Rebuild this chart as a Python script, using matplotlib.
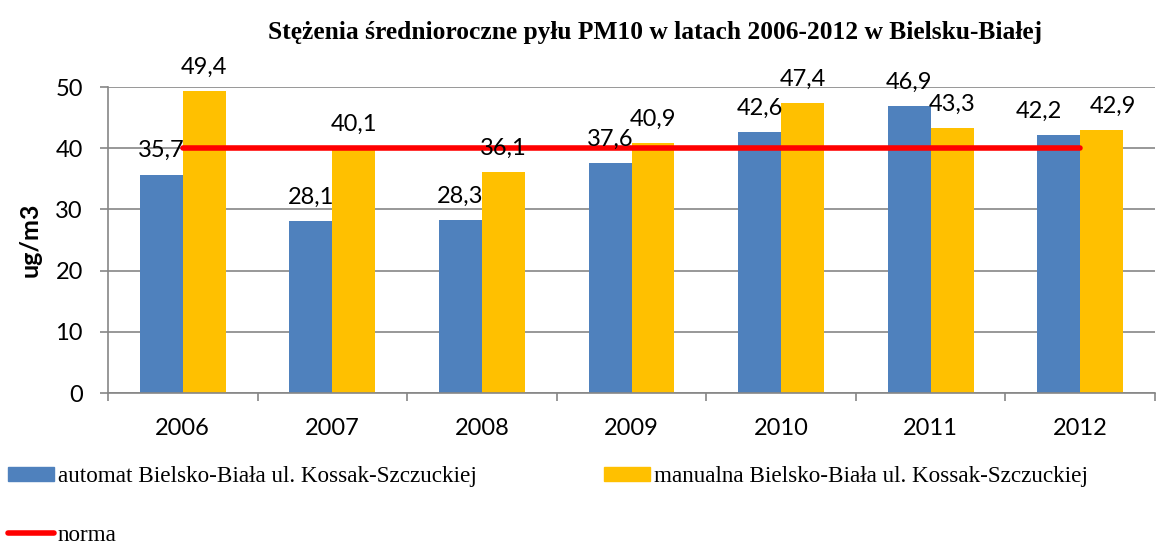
import matplotlib.pyplot as plt
import numpy as np
from matplotlib.lines import Line2D
from matplotlib.patches import Patch

# PM10 annual means, Bielsko-Biała
YEARS = ["2006", "2007", "2008", "2009", "2010", "2011", "2012"]
AUTOMAT = [35.7, 28.1, 28.3, 37.6, 42.6, 46.9, 42.2]
MANUALNA = [49.4, 40.1, 36.1, 40.9, 47.4, 43.3, 42.9]
NORMA = [40, 40, 40, 40, 40, 40, 40]

LABEL_AUTOMAT = "automat Bielsko-Biała ul. Kossak-Szczuckiej"
LABEL_MANUALNA = "manualna Bielsko-Biała ul. Kossak-Szczuckiej"
LABEL_NORMA = "norma"
TITLE = "Stężenia średnioroczne pyłu PM10 w latach 2006-2012 w Bielsku-Białej"

BLUE = "#4F81BD"
ORANGE = "#FFC000"
RED = "#FF0000"
GRID = "#868686"

SANS = ["Lato", "DejaVu Sans"]
SERIF = ["Liberation Serif", "DejaVu Serif"]

# sideways nudge (points) for value labels that would collide: (series, index) -> dx
LABEL_NUDGE = {(0, 6): -14, (1, 6): 8}


def fmt(v):
    return f"{v:.1f}".replace(".", ",")


fig = plt.figure(figsize=(11.67, 5.42), dpi=100)
ax = fig.add_axes([108 / 1167, 1 - 393 / 542, (1155 - 108) / 1167, (393 - 87) / 542])

x = np.arange(len(YEARS))
w = 0.287
b1 = ax.bar(x - w / 2, AUTOMAT, width=w, color=BLUE, zorder=2)
b2 = ax.bar(x + w / 2, MANUALNA, width=w, color=ORANGE, zorder=2)
ax.plot(x, NORMA, color=RED, linewidth=4, solid_capstyle="round", zorder=3)

for s, (bars, vals) in enumerate(((b1, AUTOMAT), (b2, MANUALNA))):
    for i, (rect, v) in enumerate(zip(bars, vals)):
        dx = LABEL_NUDGE.get((s, i), 0)
        ax.annotate(fmt(v), (rect.get_x() + rect.get_width() / 2, v),
                    xytext=(dx, 9.5), textcoords="offset points",
                    ha="center", va="bottom", fontsize=17, family=SANS, zorder=4)

ax.set_xlim(-0.5, len(YEARS) - 0.5)
ax.set_ylim(0, 50)
ax.set_yticks(range(0, 51, 10))
ax.yaxis.grid(True, color=GRID, linewidth=1.2, zorder=0)
ax.set_axisbelow(True)

# category boundaries carry the tick marks, centers carry the labels
ax.set_xticks(np.arange(-0.5, len(YEARS)), labels=[])
ax.set_xticks(x, labels=YEARS, minor=True)
ax.tick_params(axis="x", which="major", length=6, width=1.2, color=GRID)
ax.tick_params(axis="x", which="minor", length=0, pad=18, labelsize=17)
ax.tick_params(axis="y", length=6, width=1.2, color=GRID, pad=12, labelsize=17)
for lab in ax.get_xticklabels(minor=True) + ax.get_yticklabels():
    lab.set_family(SANS)

for side in ("top", "right"):
    ax.spines[side].set_visible(False)
for side in ("left", "bottom"):
    ax.spines[side].set_color(GRID)
    ax.spines[side].set_linewidth(1.2)

ax.set_ylabel("ug/m3", fontsize=18, fontweight="bold", family=SANS, labelpad=10)

fig.text(655 / 1167, 1 - 32 / 542, TITLE, ha="center", va="center",
         fontsize=18.4, fontweight="bold", family=SERIF)

handles = [Patch(color=BLUE), Line2D([], [], color=RED, linewidth=4, solid_capstyle="round"),
           Patch(color=ORANGE)]
labels = [LABEL_AUTOMAT, LABEL_NORMA, LABEL_MANUALNA]
fig.legend(handles, labels, ncol=2, loc="upper left", bbox_to_anchor=(0.0, 1 - 458 / 542),
           frameon=False, prop={"family": SERIF, "size": 16.7},
           handlelength=1.98, handleheight=0.6, handletextpad=0.17,
           columnspacing=5.47, labelspacing=1.64, borderpad=0.3, borderaxespad=0.05)

fig.savefig("out.png", dpi=100)
